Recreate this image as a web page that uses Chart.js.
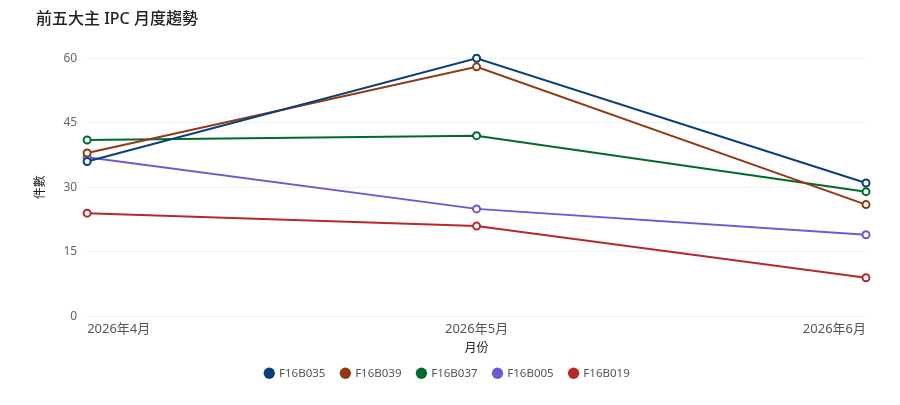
<!DOCTYPE html>
<html>
<head>
<meta charset="utf-8">
<script src="https://cdn.jsdelivr.net/npm/chart.js@4/dist/chart.umd.min.js"></script>
<style>
  html, body { margin: 0; padding: 0; background: #fff; }
  #wrap { width: 900px; height: 405px; position: relative; }
</style>
</head>
<body>
<div id="wrap"><canvas id="chart"></canvas></div>
<script>
var months = ['2026年4月', '2026年5月', '2026年6月'];
var seriesNames = ['F16B035', 'F16B039', 'F16B037', 'F16B005', 'F16B019'];
var f16b035 = [36, 60, 31];
var f16b039 = [38, 58, 26];
var f16b037 = [41, 42, 29];
var f16b005 = [37, 25, 19];
var f16b019 = [24, 21, 9];
var colors = ['#0b3f7c', '#8f3a12', '#006a2c', '#7257d4', '#b8282a'];

var values = [f16b035, f16b039, f16b037, f16b005, f16b019];
var fontFamily = '"Noto Sans", "Noto Sans CJK TC", sans-serif';

var datasets = seriesNames.map(function(name, i) {
  return {
    label: name,
    data: values[i],
    borderColor: colors[i],
    backgroundColor: colors[i],
    pointBackgroundColor: '#fff',
    pointBorderColor: colors[i],
    pointBorderWidth: 2,
    pointRadius: 3.5,
    borderWidth: 2,
    tension: 0,
    clip: false
  };
});

// title sits a little right of the layout edge in the original
var titleShift = {
  id: 'titleShift',
  afterLayout: function(chart) {
    if (chart.titleBlock) chart.titleBlock.left += 7;
  }
};

new Chart(document.getElementById('chart'), {
  type: 'line',
  data: { labels: months, datasets: datasets },
  plugins: [titleShift],
  options: {
    responsive: true,
    maintainAspectRatio: false,
    animation: false,
    layout: { padding: { left: 29, right: 34, top: 4, bottom: 16 } },
    plugins: {
      title: {
        display: true,
        text: '前五大主 IPC 月度趨勢',
        align: 'start',
        color: '#222',
        font: { family: fontFamily, size: 16, weight: '500' },
        padding: { top: 6, bottom: 29 }
      },
      legend: {
        position: 'bottom',
        labels: {
          usePointStyle: true,
          pointStyle: 'circle',
          boxWidth: 8,
          boxHeight: 8,
          padding: 16,
          color: '#555',
          font: { family: fontFamily, size: 11.5 },
          generateLabels: function(chart) {
            return chart.data.datasets.map(function(ds, i) {
              return {
                text: ds.label,
                fillStyle: ds.borderColor,
                strokeStyle: ds.borderColor,
                lineWidth: 0,
                pointStyle: 'circle',
                fontColor: '#555',
                datasetIndex: i,
                hidden: !chart.isDatasetVisible(i)
              };
            });
          }
        }
      }
    },
    scales: {
      x: {
        grid: { display: false, drawTicks: false },
        border: { display: false },
        ticks: {
          align: 'inner',
          color: '#555',
          font: { family: fontFamily, size: 13 },
          maxRotation: 0,
          padding: 5
        },
        title: {
          display: true,
          text: '月份',
          color: '#222',
          font: { family: fontFamily, size: 12 },
          padding: { top: -1, bottom: -4 }
        }
      },
      y: {
        min: 0,
        max: 60,
        ticks: {
          stepSize: 15,
          color: '#666',
          font: { family: fontFamily, size: 12 },
          padding: 10
        },
        grid: { color: '#f2f2f2', drawTicks: false },
        border: { display: false },
        title: {
          display: true,
          text: '件數',
          color: '#222',
          font: { family: fontFamily, size: 12 },
          padding: { top: 4, bottom: 6 }
        }
      }
    }
  }
});
</script>
</body>
</html>
